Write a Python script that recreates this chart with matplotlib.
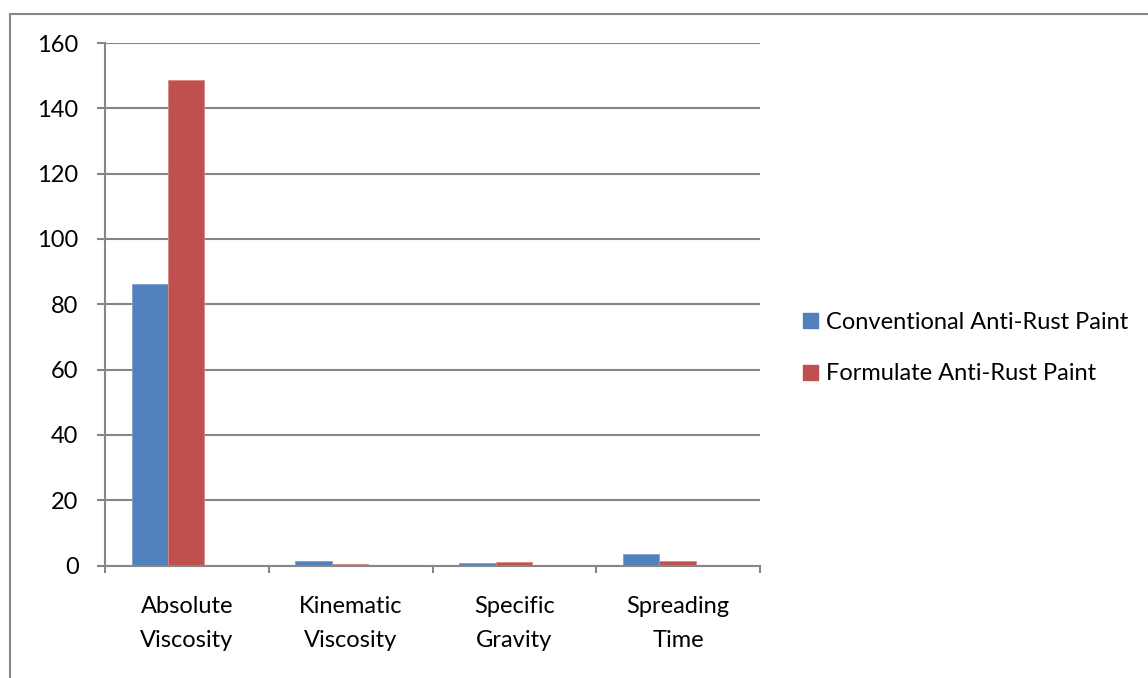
import matplotlib
matplotlib.use("Agg")
import matplotlib.pyplot as plt
from matplotlib.lines import Line2D
from matplotlib.patches import Patch
import numpy as np

plt.rcParams['font.family'] = ['Lato', 'DejaVu Sans']

categories = ["Absolute\nViscosity", "Kinematic\nViscosity", "Specific\nGravity", "Spreading\nTime"]
conventional = [86.3, 1.45, 0.8, 3.5]
formulate = [148.7, 0.6, 1.0, 1.25]
series_names = ["Conventional Anti-Rust Paint", "Formulate Anti-Rust Paint"]
yticks = [0, 20, 40, 60, 80, 100, 120, 140, 160]

blue = "#4f81bd"
red = "#c0504d"
grey = "#868686"
fs = 17

W, H = 1148, 678
fig = plt.figure(figsize=(W / 100, H / 100), dpi=100)
fig.patch.set_facecolor("white")

# outer chart-area frame (top and left edges)
fig.add_artist(Line2D([9.5 / W, 1.0], [1 - 13.5 / H, 1 - 13.5 / H], transform=fig.transFigure,
                      color=grey, lw=1.5))
fig.add_artist(Line2D([9.5 / W, 9.5 / W], [0.0, 1 - 13.5 / H], transform=fig.transFigure,
                      color=grey, lw=1.5))

x0, x1 = 105, 760
y0, y1 = 565.5, 43
ax = fig.add_axes([x0 / W, 1 - y0 / H, (x1 - x0) / W, (y0 - y1) / H])

n = len(categories)
x = np.arange(n)
bw = 0.222
shift = -0.115
ax.bar(x + shift - bw / 2, conventional, width=bw, color=blue, edgecolor="#7fa0cf", lw=0.6, zorder=3)
ax.bar(x + shift + bw / 2, formulate, width=bw, color=red, edgecolor="#d98886", lw=0.6, zorder=3)

ax.set_xlim(-0.5, n - 0.5)
ax.set_ylim(0, 160)
ax.set_yticks(yticks)
ax.set_yticklabels([str(v) for v in yticks], fontsize=fs)
ax.yaxis.grid(True, color=grey, lw=1.5, zorder=0)
ax.set_axisbelow(True)

ax.set_xticks(np.arange(-0.5, n, 1.0))
ax.set_xticklabels([])
ax.set_xticks(x, minor=True)
ax.set_xticklabels(categories, minor=True, fontsize=fs, linespacing=1.75)
ax.tick_params(axis="x", which="minor", length=0, pad=22)
ax.tick_params(axis="x", which="major", length=5, width=1.5, color=grey, direction="out")
ax.tick_params(axis="y", length=6, width=1.5, color=grey, direction="out", pad=13)

for s in ["top", "right"]:
    ax.spines[s].set_visible(False)
for s in ["left", "bottom"]:
    ax.spines[s].set_color(grey)
    ax.spines[s].set_linewidth(1.5)
ax.spines["bottom"].set_zorder(4)

handles = [Patch(facecolor=blue, edgecolor=blue), Patch(facecolor=red, edgecolor=red)]
fig.legend(handles, series_names, loc="center left", bbox_to_anchor=(794 / W, 1 - 348 / H),
           frameon=False, fontsize=fs, handlelength=0.6, handleheight=0.6,
           handletextpad=0.35, labelspacing=1.3, borderaxespad=0)

fig.savefig("out.png", dpi=100, facecolor="white")
